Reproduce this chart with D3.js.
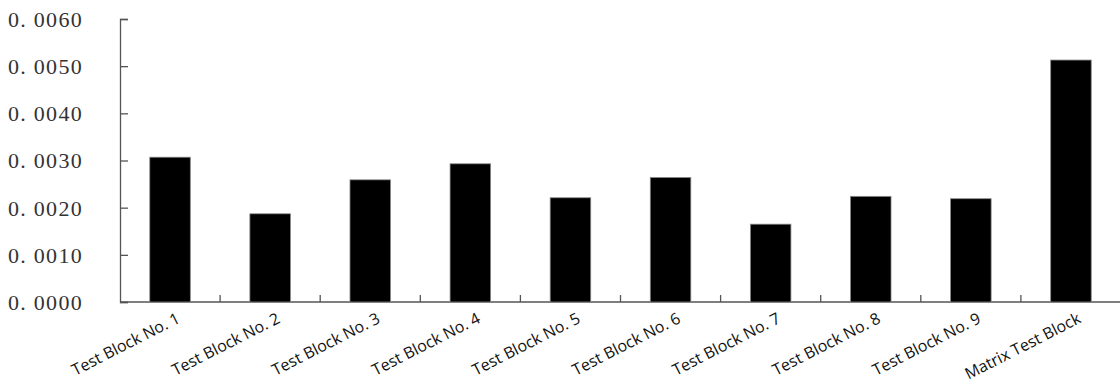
<!DOCTYPE html>
<html>
<head>
<meta charset="utf-8">
<script src="https://cdn.jsdelivr.net/npm/d3@7"></script>
<style>
  html, body { margin: 0; padding: 0; background: #fff; }
  svg { display: block; }
</style>
</head>
<body>
<svg id="chart" width="1120" height="385"></svg>
<script>
const categories = ["Test Block No. 1", "Test Block No. 2", "Test Block No. 3", "Test Block No. 4", "Test Block No. 5",
  "Test Block No. 6", "Test Block No. 7", "Test Block No. 8", "Test Block No. 9", "Matrix Test Block"];
const values = [0.00307, 0.00187, 0.00259, 0.00293, 0.00221, 0.00264, 0.00165, 0.00224, 0.00219, 0.00513];
const yTicks = [0, 0.001, 0.002, 0.003, 0.004, 0.005, 0.006];
const yTickLabels = ["0. 0000", "0. 0010", "0. 0020", "0. 0030", "0. 0040", "0. 0050", "0. 0060"];

const svg = d3.select("#chart");
const x0 = 120, x1 = 1121, yBase = 302, yTop = 19;

const x = d3.scaleBand().domain(categories).range([x0, x1]).paddingInner(0).paddingOuter(0);
const y = d3.scaleLinear().domain([0, 0.006]).range([yBase, yTop]);

// Y axis
const yAxis = d3.axisLeft(y).tickValues(yTicks).tickSize(-8).tickPadding(0)
  .tickFormat((d, i) => yTickLabels[i]);
const gy = svg.append("g").attr("transform", `translate(${x0},0)`).call(yAxis);
gy.select(".domain").attr("stroke", "#555").attr("stroke-width", 1.3);
gy.selectAll(".tick line").attr("stroke", "#555").attr("stroke-width", 1.3);
gy.selectAll(".tick text")
  .attr("x", -37)
  .attr("dy", "0.34em")
  .attr("text-anchor", "end")
  .attr("font-family", "'Liberation Serif', 'DejaVu Serif', serif")
  .attr("font-size", 22)
  .attr("letter-spacing", 1.3)
  .attr("fill", "#333");

// X axis line and ticks at category boundaries
svg.append("line").attr("x1", x0).attr("x2", x1).attr("y1", yBase).attr("y2", yBase)
  .attr("stroke", "#555").attr("stroke-width", 1.3);
const bounds = categories.map(c => x(c)).concat([x1]);
svg.append("g").selectAll("line").data(bounds.slice(1)).join("line")
  .attr("x1", d => d).attr("x2", d => d).attr("y1", yBase).attr("y2", yBase - 7)
  .attr("stroke", "#555").attr("stroke-width", 1.3);

// Bars
const barW = x.bandwidth() * 0.405;
svg.append("g").selectAll("rect").data(values).join("rect")
  .attr("x", (d, i) => x(categories[i]) + x.bandwidth() / 2 - barW / 2)
  .attr("y", d => y(d))
  .attr("width", barW)
  .attr("height", d => yBase - y(d))
  .attr("fill", "#000")
  .attr("stroke", "#888")
  .attr("stroke-width", 0.8);

// Category labels
svg.append("g").selectAll("text").data(categories).join("text")
  .attr("transform", d => `translate(${x(d) + x.bandwidth() / 2 + 11},${yBase + 20}) rotate(-27)`)
  .attr("text-anchor", "end")
  .attr("font-family", "'Open Sans', 'Liberation Sans', sans-serif")
  .attr("font-size", 16)
  .attr("fill", "#111")
  .text(d => d);
</script>
</body>
</html>
